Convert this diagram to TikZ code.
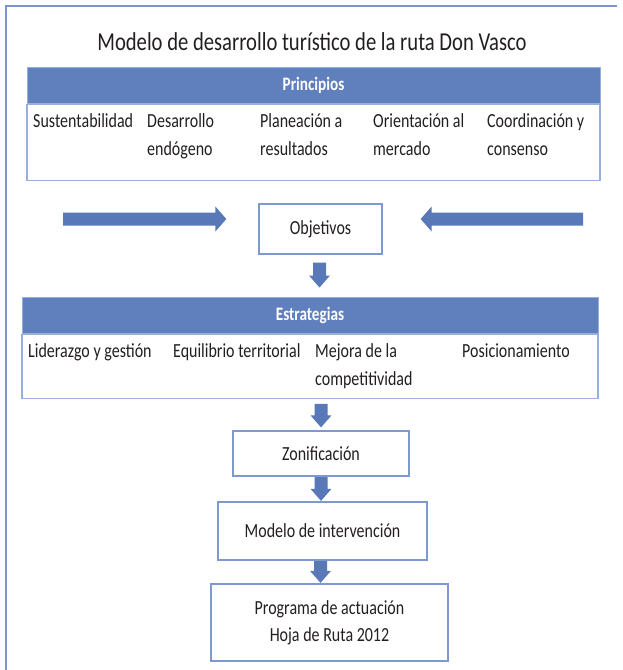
\documentclass[tikz,border=0pt]{standalone}
\usepackage{fontspec}
\setmainfont{Carlito}[FakeStretch=0.8]
\usetikzlibrary{calc}
\definecolor{hdrfill}{RGB}{96,127,189}
\definecolor{arrowc}{RGB}{88,120,184}
\definecolor{boxline}{RGB}{125,153,206}
\definecolor{tabline}{RGB}{150,175,220}
\definecolor{framec}{RGB}{125,148,198}
\definecolor{txtc}{RGB}{35,31,32}
\newcommand\firstln{\rule{0pt}{18pt}}
\begin{document}
\begin{tikzpicture}[x=1pt,y=-1pt,
  itemtxt/.style={anchor=north west, inner sep=0pt, align=left, text=txtc,
    font=\fontsize{20}{28}\selectfont},
  hdr/.style={fill=hdrfill, draw=tabline, line width=1pt, text=white,
    font=\fontsize{19}{22}\selectfont\bfseries, minimum height=36pt},
  tbody/.style={draw=tabline, line width=1.3pt, fill=white, anchor=north, inner sep=0pt},
  stepbox/.style={draw=boxline, line width=1.3pt, fill=white, text=txtc, align=center,
    font=\fontsize{20}{27}\selectfont, inner sep=0pt},
  framel/.style={draw=framec, line width=1.3pt},
  blockdown/.style={fill=arrowc, to path={let \p1=(\tikztostart), \p2=(\tikztotarget) in
    (\x1-6.5pt,\y1) -- (\x1+6.5pt,\y1) -- (\x1+6.5pt,\y2+12pt) -- (\x1+10.5pt,\y2+12pt)
    -- (\x1,\y2) -- (\x1-10.5pt,\y2+12pt) -- (\x1-6.5pt,\y2+12pt) -- cycle}},
  blockright/.style={fill=arrowc, to path={let \p1=(\tikztostart), \p2=(\tikztotarget) in
    (\x1,\y1+6.5pt) -- (\x2-11pt,\y1+6.5pt) -- (\x2-11pt,\y1+12.5pt) -- (\x2,\y1)
    -- (\x2-11pt,\y1-12.5pt) -- (\x2-11pt,\y1-6.5pt) -- (\x1,\y1-6.5pt) -- cycle}},
  blockleft/.style={fill=arrowc, to path={let \p1=(\tikztostart), \p2=(\tikztotarget) in
    (\x1,\y1+6.5pt) -- (\x2+11pt,\y1+6.5pt) -- (\x2+11pt,\y1+12.5pt) -- (\x2,\y1)
    -- (\x2+11pt,\y1-12.5pt) -- (\x2+11pt,\y1-6.5pt) -- (\x1,\y1-6.5pt) -- cycle}}
]
\useasboundingbox[fill=white] (0,0) rectangle (623,670);
% frame
\draw[framel] (617,6) -- (6,6) -- (6,672);
% title
\node[text=txtc, font=\fontsize{25.8}{30}\selectfont, inner sep=0pt] (title) at (312,42)
  {Modelo de desarrollo turístico de la ruta Don Vasco};
% Principios
\node[hdr, minimum width=573pt] (prinH) at (313.5,85) {Principios};
\node[tbody, minimum width=573pt, minimum height=76pt] (prinB) at (prinH.south) {};
\node[itemtxt] (p1) at (33,109) {\firstln Sustentabilidad};
\node[itemtxt] (p2) at (147,109) {\firstln Desarrollo\\endógeno};
\node[itemtxt] (p3) at (260,109) {\firstln Planeación a\\resultados};
\node[itemtxt] (p4) at (373,109) {\firstln Orientación al\\mercado};
\node[itemtxt] (p5) at (487,109) {\firstln Coordinación y\\consenso};
% Objetivos
\node[stepbox, minimum width=123pt, minimum height=50pt] (obj) at (320.5,229) {Objetivos};
\coordinate (lA) at (63,219);
\coordinate (rA) at (583,219);
\path[blockright] (lA) to ($(obj.west)+(-32,0)$);
\path[blockleft] (rA) to ($(obj.east)+(38,0)$);
% Estrategias
\node[hdr, minimum width=576pt] (estH) at (310,315) {Estrategias};
\node[tbody, minimum width=576pt, minimum height=64pt] (estB) at (estH.south) {};
\node[itemtxt] (e1) at (28,339) {\firstln Liderazgo y gestión};
\node[itemtxt] (e2) at (173,339) {\firstln Equilibrio territorial};
\node[itemtxt] (e3) at (315,339) {\firstln Mejora de la\\competitividad};
\node[itemtxt] (e4) at (462,339) {\firstln Posicionamiento};
% lower boxes
\node[stepbox, minimum width=176pt, minimum height=45pt] (zon) at (321,453.5) {Zonificación};
\node[stepbox, minimum width=209pt, minimum height=58pt] (mod) at (322.5,531) {Modelo de intervención};
\node[stepbox, minimum width=237pt, minimum height=77pt] (prog) at (329.5,622.5)
  {Programa de actuación\\Hoja de Ruta 2012};
% down arrows
\path[blockdown] ($(obj.south)+(-1,8)$) to ($(obj.south |- estH.north)+(-1,-9)$);
\path[blockdown] ($(zon.north |- estB.south)+(0,5)$) to ($(zon.north)+(0,-3)$);
\path[blockdown] ($(zon.south)+(0,0.5)$) to ($(zon.south |- mod.north)+(0,-0.5)$);
\path[blockdown] ($(mod.south)+(-2,0.5)$) to ($(mod.south |- prog.north)+(-2,-0.5)$);
\end{tikzpicture}
\end{document}
